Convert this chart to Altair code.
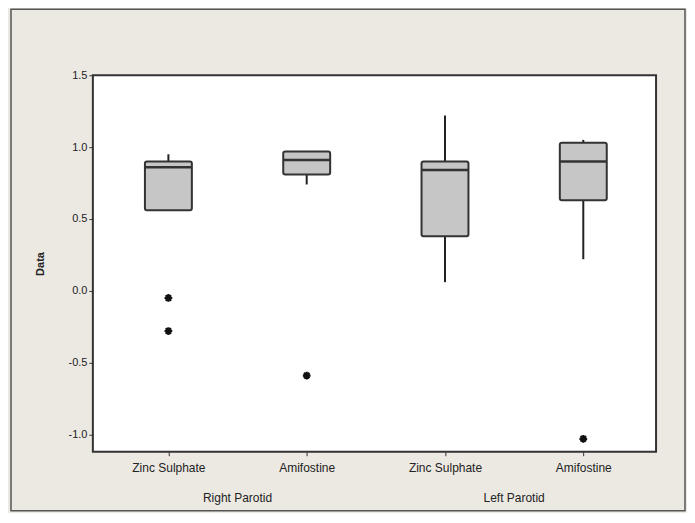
import altair as alt
import pandas as pd
import json

# ---- data ----
categories = ["Zinc Sulphate", "Amifostine", "Zinc Sulphate", "Amifostine"]
groups = ["Right Parotid", "Right Parotid", "Left Parotid", "Left Parotid"]
positions = [1, 2, 3, 4]
q1 = [0.56, 0.81, 0.38, 0.63]
median = [0.86, 0.91, 0.84, 0.90]
q3 = [0.90, 0.97, 0.90, 1.03]
whisker_low = [0.56, 0.74, 0.06, 0.22]
whisker_high = [0.95, 0.97, 1.22, 1.05]
outlier_pos = [1, 1, 2, 4]
outlier_val = [-0.05, -0.28, -0.59, -1.03]
group_names = ["Right Parotid", "Left Parotid"]
y_ticks = [-1.0, -0.5, 0.0, 0.5, 1.0, 1.5]

W, H = 564, 377
FONT = "Liberation Sans"
TXT = "#222222"

boxes = pd.DataFrame({"pos": positions, "cat": categories, "group": groups,
                      "q1": q1, "median": median, "q3": q3,
                      "lo": whisker_low, "hi": whisker_high})
outs = pd.DataFrame({"pos": outlier_pos, "val": outlier_val})
gdf = pd.DataFrame({
    "group": group_names,
    "pos": [sum(p for p, g in zip(positions, groups) if g == n) /
            sum(1 for g in groups if g == n) for n in group_names],
})

label_expr = "[" + ",".join(json.dumps(c) for c in [""] + categories) + "][datum.value]"

xscale = alt.Scale(domain=[0.49, 4.49], nice=False, zero=False)
yscale = alt.Scale(domain=[-1.12, 1.5], nice=False, zero=False)

xaxis = alt.Axis(values=positions, labelExpr=label_expr, title=None, grid=False,
                 domain=False, tickSize=4, tickColor="#333333", labelPadding=7,
                 labelFont=FONT, labelFontSize=12, labelColor=TXT, zindex=2)
yaxis = alt.Axis(values=y_ticks, labelExpr="replace(format(datum.value, '.1f'), '\u2212', '-')",
                 title="Data", grid=False,
                 domain=False, tickSize=4, tickColor="#333333", labelPadding=2,
                 labelFont=FONT, labelFontSize=11, labelColor=TXT,
                 titleFont=FONT, titleFontSize=11, titleColor=TXT,
                 titleFontWeight="bold", titlePadding=22, zindex=2)

base = alt.Chart(boxes)

frame = alt.Chart(pd.DataFrame({"a": [0]})).mark_rect(
    fill="#ece9e2", fillOpacity=0, stroke="#555555", strokeWidth=1.5
).encode(x=alt.value(-82), x2=alt.value(W + 29), y=alt.value(-66), y2=alt.value(H + 59))

whisk_lo = base.mark_rule(color="#222222", strokeWidth=2).encode(
    x=alt.X("pos:Q", scale=xscale, axis=xaxis),
    y=alt.Y("lo:Q", scale=yscale, axis=yaxis),
    y2="q1:Q",
)
whisk_hi = base.mark_rule(color="#222222", strokeWidth=2).encode(
    x=alt.X("pos:Q", scale=xscale),
    y=alt.Y("q3:Q", scale=yscale),
    y2="hi:Q",
)
box = base.mark_bar(size=47, orient="vertical", fill="#c6c6c6",
                    stroke="#333333", strokeWidth=2, cornerRadius=2).encode(
    x=alt.X("pos:Q", scale=xscale),
    y=alt.Y("q1:Q", scale=yscale),
    y2="q3:Q",
)
med = base.mark_tick(orient="horizontal", size=47, thickness=2.5, color="#333333",
                     opacity=1).encode(
    x=alt.X("pos:Q", scale=xscale),
    y=alt.Y("median:Q", scale=yscale),
)
asterisk = "M-1,0L1,0M0,-1L0,1M-0.7,-0.7L0.7,0.7M-0.7,0.7L0.7,-0.7"
pts = alt.Chart(outs).mark_point(shape=asterisk, size=60, stroke="#111111",
                                 strokeWidth=2.2, filled=False, opacity=1).encode(
    x=alt.X("pos:Q", scale=xscale),
    y=alt.Y("val:Q", scale=yscale),
)
glabels = alt.Chart(gdf).mark_text(font=FONT, fontSize=12, color=TXT,
                                   baseline="middle").encode(
    x=alt.X("pos:Q", scale=xscale),
    y=alt.value(H + 46),
    text="group:N",
)

chart = alt.layer(whisk_lo, whisk_hi, box, med, pts, glabels, frame).properties(
    width=W, height=H,
    autosize=alt.AutoSizeParams(type="none"),
    padding={"left": 85, "top": 67, "right": 31, "bottom": 61},
).configure(background="#ece9e2").configure_view(
    stroke="#333333", strokeWidth=2, fill="white"
)

chart.save("out.html", embed_options={"renderer": "svg", "actions": False})
